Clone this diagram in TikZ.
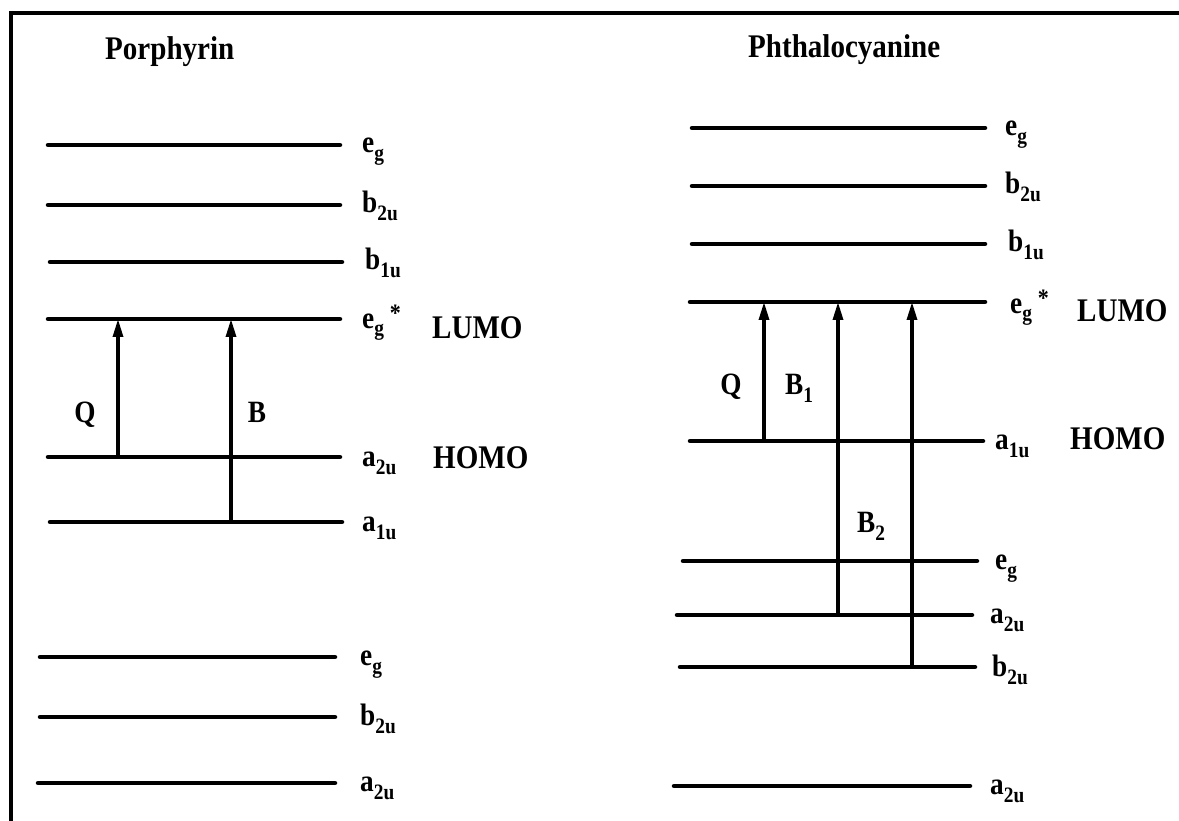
\documentclass[tikz,border=0pt]{standalone}
\usepackage{fontspec}
\setmainfont{Liberation Serif}[FakeStretch=0.88]
\usetikzlibrary{arrows.meta}
\newcommand\sbs[1]{\raisebox{-8pt}{\fontsize{22}{22}\selectfont #1}}
\newcommand\starsup{\hspace{6pt}\raisebox{6pt}{\fontsize{25}{25}\selectfont *}}
\tikzset{
 level/.style={line width=4.5pt, line cap=round},
 trans/.style={line width=3.2pt, -{Triangle[length=18pt,width=10pt]}},
 lab/.style={anchor=base west, inner sep=0pt, font=\fontsize{31}{33}\selectfont\bfseries},
 big/.style={anchor=base west, inner sep=0pt, font=\fontsize{33}{36}\selectfont\bfseries},
 mid/.style={anchor=base, inner sep=0pt, font=\fontsize{31}{33}\selectfont\bfseries},
 frame/.style={line width=4.5pt}
}
\begin{document}
\begin{tikzpicture}[x=1pt,y=-1pt]
\useasboundingbox (0,0) rectangle (1179,821);
% frame (top and left edges)
\coordinate (f1) at (9,13);
\coordinate (f2) at (1185,13);
\coordinate (f3) at (11,11);
\coordinate (f4) at (11,830);
\draw[frame] (f1) -- (f2);
\draw[frame] (f3) -- (f4);
% titles
\node[big] (tP) at (105,60) {Porphyrin};
\node[big] (tPc) at (748,58) {Phthalocyanine};
% ---------- Porphyrin levels ----------
\coordinate (A1a) at (48,145);  \coordinate (A1b) at (340,145);
\coordinate (A2a) at (48,205);  \coordinate (A2b) at (340,205);
\coordinate (A3a) at (50,262);  \coordinate (A3b) at (342,262);
\coordinate (A4a) at (48,319);  \coordinate (A4b) at (340,319);
\coordinate (A5a) at (48,457);  \coordinate (A5b) at (340,457);
\coordinate (A6a) at (50,522);  \coordinate (A6b) at (342,522);
\coordinate (A7a) at (40,657);  \coordinate (A7b) at (335,657);
\coordinate (A8a) at (40,717);  \coordinate (A8b) at (335,717);
\coordinate (A9a) at (38,783);  \coordinate (A9b) at (335,783);
\foreach \i in {1,...,9} \draw[level] (A\i a) -- (A\i b);
\node[lab] (lA1) at (362,153) {e\sbs{g}};
\node[lab] (lA2) at (362,213) {b\sbs{2u}};
\node[lab] (lA3) at (365,270) {b\sbs{1u}};
\node[lab] (lA4) at (362,328) {e\sbs{g}\starsup};
\node[big] (lumoA) at (432,338) {LUMO};
\node[lab] (lA5) at (362,466) {a\sbs{2u}};
\node[big] (homoA) at (433,468) {HOMO};
\node[lab] (lA6) at (362,531) {a\sbs{1u}};
\node[lab] (lA7) at (360,665) {e\sbs{g}};
\node[lab] (lA8) at (360,725) {b\sbs{2u}};
\node[lab] (lA9) at (360,791) {a\sbs{2u}};
% transitions
\coordinate (qA0) at (118,457); \coordinate (qA1) at (118,319);
\coordinate (bA0) at (231,522); \coordinate (bA1) at (231,319);
\draw[trans] (qA0) -- (qA1);
\draw[trans] (bA0) -- (bA1);
\node[mid] (QA) at (85,422) {Q};
\node[mid] (BA) at (257,422) {B};
% ---------- Phthalocyanine levels ----------
\coordinate (C1a) at (692,128); \coordinate (C1b) at (985,128);
\coordinate (C2a) at (692,186); \coordinate (C2b) at (985,186);
\coordinate (C3a) at (692,244); \coordinate (C3b) at (985,244);
\coordinate (C4a) at (690,302); \coordinate (C4b) at (985,302);
\coordinate (C5a) at (690,441); \coordinate (C5b) at (983,441);
\coordinate (C6a) at (683,561); \coordinate (C6b) at (977,561);
\coordinate (C7a) at (677,615); \coordinate (C7b) at (972,615);
\coordinate (C8a) at (680,667); \coordinate (C8b) at (975,667);
\coordinate (C9a) at (674,786); \coordinate (C9b) at (970,786);
\foreach \i in {1,...,9} \draw[level] (C\i a) -- (C\i b);
\node[lab] (lC1) at (1005,136) {e\sbs{g}};
\node[lab] (lC2) at (1005,194) {b\sbs{2u}};
\node[lab] (lC3) at (1008,252) {b\sbs{1u}};
\node[lab] (lC4) at (1010,313) {e\sbs{g}\starsup};
\node[big] (lumoC) at (1077,322) {LUMO};
\node[lab] (lC5) at (995,449) {a\sbs{1u}};
\node[big] (homoC) at (1070,449) {HOMO};
\node[lab] (lC6) at (995,569) {e\sbs{g}};
\node[lab] (lC7) at (990,623) {a\sbs{2u}};
\node[lab] (lC8) at (992,676) {b\sbs{2u}};
\node[lab] (lC9) at (990,794) {a\sbs{2u}};
\coordinate (qC0) at (764,441); \coordinate (qC1) at (764,302);
\coordinate (b1C0) at (838,615); \coordinate (b1C1) at (838,302);
\coordinate (b2C0) at (912,667); \coordinate (b2C1) at (912,302);
\draw[trans] (qC0) -- (qC1);
\draw[trans] (b1C0) -- (b1C1);
\draw[trans] (b2C0) -- (b2C1);
\node[mid] (QC) at (731,394) {Q};
\node[lab] (BC1) at (785,394) {B\sbs{1}};
\node[lab] (BC2) at (857,532) {B\sbs{2}};
\end{tikzpicture}
\end{document}
